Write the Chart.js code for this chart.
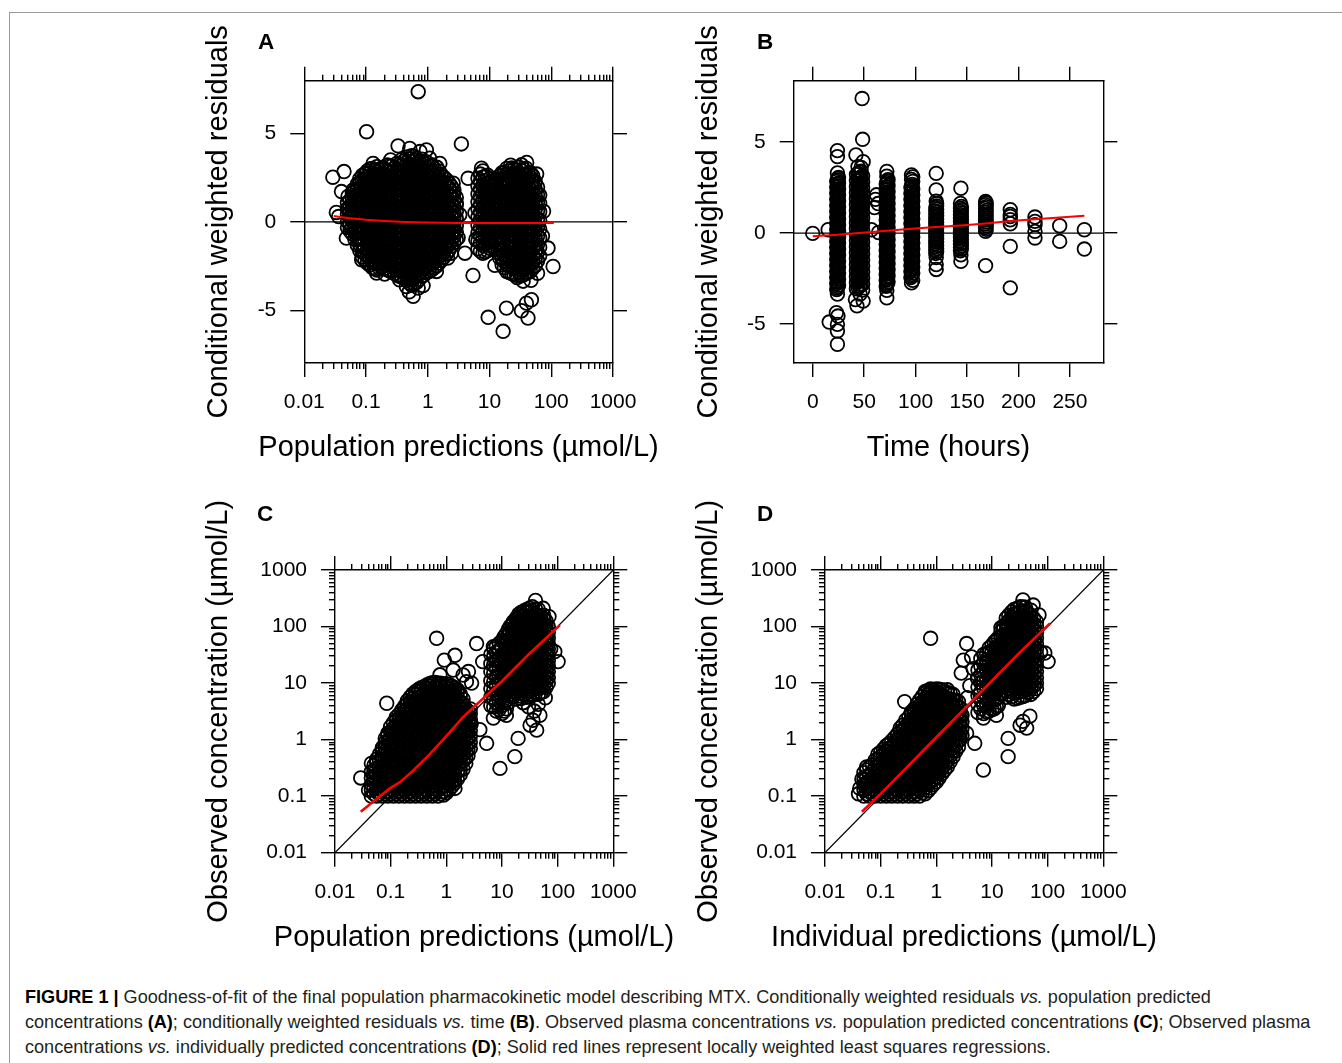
<!DOCTYPE html>
<html><head><meta charset="utf-8">
<script src="https://cdn.jsdelivr.net/npm/chart.js@4.4.1/dist/chart.umd.min.js"></script>
<style>
html,body{margin:0;padding:0;background:#fff;}
body{width:1342px;height:1063px;position:relative;overflow:hidden;font-family:"Liberation Sans",Arial,sans-serif;}
.frame{position:absolute;left:9px;top:12px;right:-5px;bottom:-5px;border-top:1px solid #999;border-left:1px solid #999;}
canvas{position:absolute;}
.lbl{position:absolute;font-weight:bold;font-size:22.5px;line-height:22px;color:#000;}
.cap{position:absolute;left:25px;top:985px;font-size:18.1px;line-height:25px;color:#231f20;white-space:nowrap;}
.cap b{color:#000;}
</style></head>
<body>
<div class="frame"></div>
<canvas id="cA" width="517" height="450" style="left:200px;top:20px"></canvas>
<canvas id="cB" width="517" height="450" style="left:690px;top:20px"></canvas>
<canvas id="cC" width="548" height="470" style="left:200px;top:490px"></canvas>
<canvas id="cD" width="548" height="470" style="left:690px;top:490px"></canvas>
<div class="lbl" style="left:258px;top:31px">A</div>
<div class="lbl" style="left:757px;top:31px">B</div>
<div class="lbl" style="left:257px;top:503px">C</div>
<div class="lbl" style="left:757px;top:503px">D</div>
<div class="cap"><b>FIGURE 1 |</b> Goodness-of-fit of the final population pharmacokinetic model describing MTX. Conditionally weighted residuals <i>vs.</i> population predicted<br>concentrations <b>(A)</b>; conditionally weighted residuals <i>vs.</i> time <b>(B)</b>. Observed plasma concentrations <i>vs.</i> population predicted concentrations <b>(C)</b>; Observed plasma<br>concentrations <i>vs.</i> individually predicted concentrations <b>(D)</b>; Solid red lines represent locally weighted least squares regressions.</div>
<script>
// ---------- tick values and labels ----------
const logTickValues = [0.01, 0.1, 1, 10, 100, 1000];
const logTickLabels = ['0.01', '0.1', '1', '10', '100', '1000'];
const cwresTickValues = [-5, 0, 5];
const cwresTickLabels = ['-5', '0', '5'];
const timeTickValues = [0, 50, 100, 150, 200, 250];
const timeTickLabels = ['0', '50', '100', '150', '200', '250'];

const titlePopPred = 'Population predictions (\u00b5mol/L)';
const titleIndPred = 'Individual predictions (\u00b5mol/L)';
const titleTime = 'Time (hours)';
const titleCwres = 'Conditional weighted residuals';
const titleObs = 'Observed concentration (\u00b5mol/L)';

// ---------- Panel A: population prediction vs CWRES (grouped by prediction) ----------
const predCwresColumns = [
 [0.05,[-0.32,0.02,0.41,0.73,1.08]],
 [0.06,[-0.68,-0.29,0.05,0.37,0.74,1.02,1.38,1.63]],
 [0.072,[-1.31,-0.92,-0.63,-0.22,0.13,0.44,0.82,1.17,1.46,1.83,2.12]],
 [0.087,[-1.97,-1.68,-1.27,-0.96,-0.57,-0.28,0.08,0.41,0.73,1.06,1.42,1.71,2.03,2.37,2.62]],
 [0.105,[-2.32,-1.94,-1.63,-1.22,-0.91,-0.53,-0.18,0.17,0.48,0.86,1.19,1.57,1.88,2.23,2.54,2.88]],
 [0.126,[-2.58,-2.27,-1.88,-1.56,-1.18,-0.84,-0.51,-0.13,0.22,0.53,0.92,1.24,1.62,1.93,2.31,2.64,3.02]],
 [0.15,[-2.72,-2.38,-2.03,-1.72,-1.33,-1.02,-0.63,-0.31,0.06,0.38,0.77,1.08,1.46,1.78,2.16,2.48,2.82,3.12]],
 [0.18,[-2.57,-2.21,-1.84,-1.52,-1.13,-0.79,-0.46,-0.08,0.24,0.62,0.93,1.31,1.64,2.02,2.33,2.71,3.04]],
 [0.22,[-2.71,-2.33,-2.02,-1.63,-1.31,-0.93,-0.62,-0.24,0.11,0.43,0.82,1.13,1.52,1.84,2.21,2.53,2.92,3.21]],
 [0.26,[-2.83,-2.44,-2.12,-1.73,-1.42,-1.03,-0.71,-0.33,0.02,0.36,0.71,1.04,1.42,1.73,2.12,2.43,2.81,3.14]],
 [0.32,[-3.02,-2.63,-2.31,-1.93,-1.62,-1.23,-0.91,-0.53,-0.21,0.17,0.48,0.87,1.18,1.57,1.88,2.27,2.58,2.96,3.31]],
 [0.38,[-3.12,-2.77,-2.38,-2.07,-1.68,-1.37,-0.98,-0.66,-0.28,0.07,0.38,0.77,1.08,1.47,1.78,2.17,2.48,2.87,3.18,3.52]],
 [0.46,[-3.31,-2.93,-2.62,-2.23,-1.92,-1.53,-1.22,-0.83,-0.52,-0.13,0.18,0.57,0.88,1.27,1.58,1.97,2.28,2.67,2.98,3.37,3.66]],
 [0.55,[-3.58,-3.27,-2.88,-2.57,-2.18,-1.87,-1.48,-1.17,-0.78,-0.47,-0.08,0.23,0.62,0.93,1.32,1.63,2.02,2.33,2.72,3.03,3.42,3.74]],
 [0.66,[-3.42,-3.03,-2.72,-2.33,-2.02,-1.63,-1.32,-0.93,-0.62,-0.23,0.08,0.47,0.78,1.17,1.48,1.87,2.18,2.57,2.88,3.27,3.58]],
 [0.8,[-3.08,-2.77,-2.38,-2.07,-1.68,-1.37,-0.98,-0.67,-0.28,0.03,0.42,0.73,1.12,1.43,1.82,2.13,2.52,2.83,3.22,3.54]],
 [0.95,[-2.88,-2.53,-2.22,-1.83,-1.52,-1.13,-0.82,-0.43,-0.12,0.27,0.58,0.97,1.28,1.67,1.98,2.37,2.68,3.07,3.38]],
 [1.15,[-2.72,-2.33,-2.02,-1.63,-1.32,-0.93,-0.62,-0.23,0.08,0.47,0.78,1.17,1.48,1.87,2.18,2.57,2.88,3.23]],
 [1.4,[-2.48,-2.17,-1.78,-1.47,-1.08,-0.77,-0.38,-0.07,0.32,0.63,1.02,1.33,1.72,2.03,2.42,2.73,3.08]],
 [1.65,[-2.18,-1.87,-1.48,-1.17,-0.78,-0.47,-0.08,0.23,0.62,0.93,1.32,1.63,2.02,2.33,2.68]],
 [2.0,[-1.82,-1.43,-1.12,-0.73,-0.42,-0.03,0.28,0.67,0.98,1.37,1.68,2.07,2.38]],
 [2.4,[-1.38,-1.07,-0.68,-0.37,0.02,0.33,0.72,1.03,1.42,1.73,2.02]],
 [2.9,[-0.98,-0.58,-0.22,0.21,0.58,0.97,1.38]],
 [6.5,[-1.52,-1.08,-0.63,-0.18,0.27,0.72,1.13,1.58,2.03,2.46]],
 [7.8,[-1.78,-1.32,-0.88,-0.47,-0.03,0.38,0.83,1.24,1.67,2.08,2.52,2.88]],
 [9.3,[-1.62,-1.17,-0.74,-0.31,0.12,0.53,0.96,1.37,1.78,2.21,2.63]],
 [11,[-1.38,-0.92,-0.43,0.04,0.47,0.91,1.34,1.82,2.28]],
 [13.5,[-1.73,-1.22,-0.76,-0.28,0.18,0.63,1.04,1.52,1.93,2.42]],
 [16,[-2.42,-2.03,-1.61,-1.18,-0.79,-0.37,0.04,0.43,0.84,1.23,1.64,2.02,2.43,2.78]],
 [19,[-2.81,-2.43,-2.07,-1.68,-1.32,-0.93,-0.58,-0.19,0.17,0.53,0.91,1.27,1.63,2.01,2.37,2.72,3.02]],
 [23,[-2.92,-2.58,-2.22,-1.83,-1.48,-1.13,-0.78,-0.43,-0.08,0.27,0.62,0.97,1.32,1.67,2.02,2.37,2.71,3.04]],
 [27.5,[-3.02,-2.67,-2.31,-1.96,-1.61,-1.26,-0.91,-0.56,-0.21,0.14,0.49,0.84,1.19,1.54,1.89,2.24,2.59,2.93]],
 [33,[-3.04,-2.71,-2.36,-2.01,-1.66,-1.31,-0.96,-0.61,-0.26,0.09,0.44,0.79,1.14,1.49,1.84,2.19,2.54,2.89,3.22]],
 [39,[-2.91,-2.56,-2.21,-1.86,-1.51,-1.16,-0.81,-0.46,-0.11,0.24,0.59,0.94,1.29,1.64,1.99,2.34,2.69,3.03]],
 [46,[-2.79,-2.42,-2.06,-1.71,-1.36,-1.01,-0.66,-0.31,0.04,0.39,0.74,1.09,1.44,1.79,2.14,2.49,2.77]],
 [55,[-2.48,-2.08,-1.69,-1.31,-0.92,-0.52,-0.13,0.28,0.68,1.07,1.48,1.88,2.27]],
 [65,[-1.92,-1.43,-0.91,-0.42,0.08,0.57,1.06,1.51]]
];
const predCwresColumnsMid = [
 [0.055,[-0.5,-0.13,0.22,0.56,0.9,1.22]],
 [0.066,[-0.98,-0.6,-0.27,0.09,0.42,0.78,1.12,1.44,1.76]],
 [0.079,[-1.62,-1.28,-0.93,-0.6,-0.25,0.1,0.45,0.79,1.14,1.48,1.83,2.17,2.42]],
 [0.096,[-2.15,-1.8,-1.45,-1.1,-0.76,-0.39,-0.05,0.3,0.64,0.98,1.33,1.67,2.02,2.36,2.72]],
 [0.115,[-2.44,-2.1,-1.76,-1.4,-1.05,-0.7,-0.34,0.02,0.36,0.7,1.06,1.41,1.76,2.11,2.44,2.78,2.98]],
 [0.138,[-2.65,-2.32,-1.96,-1.63,-1.27,-0.93,-0.57,-0.22,0.13,0.46,0.84,1.17,1.54,1.86,2.23,2.56,2.9]],
 [0.165,[-2.62,-2.3,-1.94,-1.6,-1.24,-0.9,-0.55,-0.2,0.15,0.5,0.85,1.2,1.55,1.9,2.25,2.6,2.93]],
 [0.2,[-2.64,-2.28,-1.93,-1.58,-1.22,-0.86,-0.54,-0.16,0.18,0.52,0.88,1.22,1.58,1.93,2.27,2.62,2.98]],
 [0.24,[-2.77,-2.4,-2.07,-1.68,-1.36,-0.98,-0.66,-0.28,0.06,0.4,0.76,1.1,1.47,1.8,2.16,2.5,2.86,3.17]],
 [0.29,[-2.92,-2.54,-2.21,-1.83,-1.52,-1.13,-0.81,-0.43,-0.1,0.26,0.6,0.95,1.3,1.65,2.0,2.35,2.7,3.05]],
 [0.35,[-3.07,-2.7,-2.35,-2.0,-1.65,-1.3,-0.95,-0.6,-0.25,0.12,0.43,0.82,1.13,1.52,1.83,2.22,2.53,2.92,3.25]],
 [0.42,[-3.22,-2.85,-2.5,-2.15,-1.8,-1.45,-1.1,-0.75,-0.4,-0.03,0.28,0.67,0.98,1.37,1.68,2.07,2.38,2.77,3.08,3.45]],
 [0.5,[-3.45,-3.1,-2.75,-2.4,-2.05,-1.7,-1.35,-1.0,-0.65,-0.3,0.05,0.4,0.75,1.1,1.45,1.8,2.15,2.5,2.85,3.2,3.55]],
 [0.6,[-3.5,-3.15,-2.8,-2.45,-2.1,-1.75,-1.4,-1.05,-0.7,-0.35,0.0,0.35,0.7,1.05,1.4,1.75,2.1,2.45,2.8,3.15,3.5,3.7]],
 [0.73,[-3.25,-2.9,-2.55,-2.2,-1.85,-1.5,-1.15,-0.8,-0.45,-0.1,0.25,0.6,0.95,1.3,1.65,2.0,2.35,2.7,3.05,3.4]],
 [0.87,[-3.0,-2.65,-2.3,-1.95,-1.6,-1.25,-0.9,-0.55,-0.2,0.15,0.5,0.85,1.2,1.55,1.9,2.25,2.6,2.95,3.3]],
 [1.05,[-2.8,-2.45,-2.1,-1.75,-1.4,-1.05,-0.7,-0.35,0.0,0.35,0.7,1.05,1.4,1.75,2.1,2.45,2.8,3.15]],
 [1.27,[-2.6,-2.25,-1.9,-1.55,-1.2,-0.85,-0.5,-0.15,0.2,0.55,0.9,1.25,1.6,1.95,2.3,2.65,3.0]],
 [1.52,[-2.33,-1.98,-1.63,-1.28,-0.93,-0.58,-0.23,0.12,0.47,0.82,1.17,1.52,1.87,2.22,2.55,2.88]],
 [1.82,[-2.0,-1.65,-1.3,-0.95,-0.6,-0.25,0.1,0.45,0.8,1.15,1.5,1.85,2.2,2.52]],
 [2.2,[-1.6,-1.25,-0.9,-0.55,-0.2,0.15,0.5,0.85,1.2,1.55,1.9,2.2]],
 [2.65,[-1.2,-0.85,-0.5,-0.15,0.2,0.55,0.9,1.25,1.6,1.8]],
 [7.1,[-1.65,-1.2,-0.76,-0.32,0.12,0.55,0.98,1.42,1.85,2.28,2.7]],
 [8.5,[-1.7,-1.25,-0.82,-0.4,0.04,0.45,0.9,1.3,1.72,2.15,2.58]],
 [10.1,[-1.5,-1.05,-0.6,-0.15,0.3,0.72,1.15,1.58,2.0,2.45]],
 [12.2,[-1.55,-1.07,-0.6,-0.12,0.33,0.77,1.19,1.67,2.11,2.36]],
 [14.7,[-2.05,-1.62,-1.2,-0.78,-0.33,0.1,0.52,0.94,1.36,1.78,2.2,2.6]],
 [17.4,[-2.6,-2.22,-1.84,-1.45,-1.05,-0.65,-0.27,0.12,0.5,0.88,1.27,1.64,2.03,2.4,2.78]],
 [21,[-2.86,-2.5,-2.14,-1.76,-1.4,-1.04,-0.69,-0.31,0.04,0.4,0.76,1.12,1.47,1.84,2.2,2.54,2.87]],
 [25,[-2.97,-2.62,-2.27,-1.9,-1.55,-1.2,-0.85,-0.5,-0.15,0.2,0.55,0.9,1.25,1.6,1.95,2.3,2.65,2.98]],
 [30,[-2.85,-2.5,-2.15,-1.8,-1.45,-1.1,-0.75,-0.4,-0.05,0.3,0.65,1.0,1.35,1.7,2.05,2.4,2.75,3.08]],
 [36,[-2.98,-2.63,-2.28,-1.93,-1.58,-1.23,-0.88,-0.53,-0.18,0.17,0.52,0.87,1.22,1.57,1.92,2.27,2.62,2.96]],
 [42.5,[-2.85,-2.48,-2.13,-1.78,-1.43,-1.08,-0.73,-0.38,-0.03,0.32,0.67,1.02,1.37,1.72,2.07,2.42,2.75]],
 [50,[-2.62,-2.25,-1.88,-1.5,-1.12,-0.75,-0.37,0.02,0.4,0.78,1.16,1.55,1.92,2.3,2.6]],
 [60,[-2.2,-1.72,-1.27,-0.8,-0.32,0.16,0.63,1.1,1.55,1.95]]
];
const predCwresSingles = [
 [0.029,2.52],[0.044,2.84],[0.04,1.71],[0.033,0.53],[0.036,0.3],[0.048,-0.92],[0.058,-0.36],[0.085,-2.14],
 [0.148,-2.89],[0.2,-2.95],[0.35,-3.27],[0.45,-3.65],[0.58,-4.21],[0.5,-3.95],[0.7,-3.74],[0.84,-3.6],
 [1.07,-2.6],[1.38,-2.8],[2.1,-2.05],[2.4,-1.77],[2.58,-0.64],[2.9,1.05],[2.58,2.18],[1.57,3.3],[1.07,3.6],
 [0.95,4.06],[0.75,3.97],[0.51,4.15],[0.33,4.29],[0.13,3.3],[0.1,2.74],[0.079,2.18],[0.062,1.8],[0.051,1.43],
 [0.102,5.09],[0.7,7.35],[3.3,0.4],[3.1,-0.9],[0.25,3.5],
 [4.5,2.46],[3.5,4.4],[4.0,-1.77],[5.4,-3.03],[12.2,-2.46],[9.5,-5.39],[18.8,-4.87],[16.6,-6.18],[32.9,-5.02],
 [39.6,-4.59],[47.7,-4.4],[42,-5.43],[88.7,-1.48],[107,-2.52],[7.4,3.03],[40,3.35],[35,-3.35],[47,-3.3],
 [28,-3.15],[60,-2.9],[75,0.6],[72,-0.8],[58,2.7],[22,3.2],[5.8,0.5],[6,-1.0]
];
const loessA = [[0.03,0.33],[0.05,0.22],[0.1,0.12],[0.2,0.05],[0.35,0.01],[0.6,-0.02],[1,-0.04],[3,-0.06],[10,-0.07],[30,-0.07],[110,-0.06]];
const zeroLineA = [[0.01,0],[1000,0]];

// ---------- Panel B: time vs CWRES (grouped by sampling time) ----------
const timeCwresColumns = [
 [23.3,[-3.1,-2.77,-2.44,-2.11,-1.78,-1.45,-1.12,-0.79,-0.46,-0.13,0.2,0.53,0.86,1.19,1.52,1.85,2.18,2.51,2.84]],
 [23.9,[-3.02,-2.69,-2.36,-2.03,-1.7,-1.37,-1.04,-0.71,-0.38,-0.05,0.28,0.61,0.94,1.27,1.6,1.93,2.26,2.59,2.92]],
 [24.5,[-2.94,-2.61,-2.28,-1.95,-1.62,-1.29,-0.96,-0.63,-0.3,0.03,0.36,0.69,1.02,1.35,1.68,2.01,2.34,2.67,3.0]],
 [25.1,[-2.86,-2.53,-2.2,-1.87,-1.54,-1.21,-0.88,-0.55,-0.22,0.11,0.44,0.77,1.1,1.43,1.76,2.09,2.42,2.75,3.06]],
 [42.5,[-3.06,-2.73,-2.4,-2.07,-1.74,-1.41,-1.08,-0.75,-0.42,-0.09,0.24,0.57,0.9,1.23,1.56,1.89,2.22,2.55,2.88,3.21]],
 [44,[-2.99,-2.66,-2.33,-2.0,-1.67,-1.34,-1.01,-0.68,-0.35,-0.02,0.31,0.64,0.97,1.3,1.63,1.96,2.29,2.62,2.95,3.28]],
 [45.5,[-2.93,-2.6,-2.27,-1.94,-1.61,-1.28,-0.95,-0.62,-0.29,0.04,0.37,0.7,1.03,1.36,1.69,2.02,2.35,2.68,3.01,3.34]],
 [47,[-2.86,-2.53,-2.2,-1.87,-1.54,-1.21,-0.88,-0.55,-0.22,0.11,0.44,0.77,1.1,1.43,1.76,2.09,2.42,2.75,3.08,3.4]],
 [48.5,[-3.13,-2.8,-2.47,-2.14,-1.81,-1.48,-1.15,-0.82,-0.49,-0.16,0.17,0.5,0.83,1.16,1.49,1.82,2.15,2.48,2.81,3.14]],
 [71.4,[-2.92,-2.59,-2.26,-1.93,-1.6,-1.27,-0.94,-0.61,-0.28,0.05,0.38,0.71,1.04,1.37,1.7,2.03,2.36,2.69]],
 [72,[-2.84,-2.51,-2.18,-1.85,-1.52,-1.19,-0.86,-0.53,-0.2,0.13,0.46,0.79,1.12,1.45,1.78,2.11,2.44,2.77]],
 [72.6,[-2.76,-2.43,-2.1,-1.77,-1.44,-1.11,-0.78,-0.45,-0.12,0.21,0.54,0.87,1.2,1.53,1.86,2.19,2.52,2.85]],
 [73.2,[-2.68,-2.35,-2.02,-1.69,-1.36,-1.03,-0.7,-0.37,-0.04,0.29,0.62,0.95,1.28,1.61,1.94,2.27,2.6,2.93]],
 [95.4,[-2.44,-2.11,-1.78,-1.45,-1.12,-0.79,-0.46,-0.13,0.2,0.53,0.86,1.19,1.52,1.85,2.18,2.51]],
 [96,[-2.36,-2.03,-1.7,-1.37,-1.04,-0.71,-0.38,-0.05,0.28,0.61,0.94,1.27,1.6,1.93,2.26,2.59]],
 [96.6,[-2.28,-1.95,-1.62,-1.29,-0.96,-0.63,-0.3,0.03,0.36,0.69,1.02,1.35,1.68,2.01,2.34,2.67]],
 [97.2,[-2.6,-2.2,-1.87,-1.54,-1.21,-0.88,-0.55,-0.22,0.11,0.44,0.77,1.1,1.43,1.76,2.09,2.42,2.84,3.08]],
 [119.6,[-1.12,-0.94,-0.76,-0.58,-0.4,-0.22,-0.04,0.14,0.32,0.5,0.68,0.86,1.04,1.22,1.4]],
 [120.4,[-1.03,-0.85,-0.67,-0.49,-0.31,-0.13,0.05,0.23,0.41,0.59,0.77,0.95,1.13,1.31,1.49,1.62]],
 [143.6,[-0.97,-0.79,-0.61,-0.43,-0.25,-0.07,0.11,0.29,0.47,0.65,0.83,1.01,1.19,1.37,1.63]],
 [144.4,[-0.88,-0.7,-0.52,-0.34,-0.16,0.02,0.2,0.38,0.56,0.74,0.92,1.1,1.28,1.46]],
 [168,[0.09,0.3,0.5,0.72,0.93,1.14,1.35,1.56,1.73]],
 [168.6,[0.2,0.4,0.61,0.82,1.03,1.24,1.45,1.65]],
 [192,[0.51,0.73,0.91,1.02,1.28]],
 [216,[-0.27,0.09,0.46,0.64,0.88]],
 [240,[-0.46,0.4]],
 [264,[-0.88,0.18]]
];
const timeCwresSingles = [
 [0,-0.02],[15,0.18],[16,-4.89],[24,4.53],[24,4.2],[24,3.3],[24,-3.35],[23,-4.38],[24.5,-4.56],[24,-5.02],[24,-5.38],[24,-6.11],
 [48,7.39],[48.5,5.15],[42,4.29],[49,3.92],[44,3.65],[47,3.6],[41.5,-3.65],[43,-4.0],[49,-3.74],[46,-3.35],
 [57,0.18],[64,0.03],[62,2.1],[63.5,1.62],[61,1.85],[60,1.4],[72,3.38],[72,3.12],[72,-3.56],[72,-3.15],
 [96,3.19],[96,2.95],[96,-2.74],[120,3.28],[120,2.37],[120,1.75],[120,-1.35],[120,-1.73],[120,-2.0],
 [144,2.46],[144,-1.2],[144,-1.55],[168,-1.79],[192,-0.73],[192,-3.01]
];
const loessB = [[0,-0.18],[24,-0.1],[48,0.02],[72,0.13],[96,0.24],[120,0.33],[144,0.42],[168,0.53],[192,0.66],[216,0.76],[240,0.86],[264,0.95]];
const zeroLineB = [[-18.5,0],[282.5,0]];

// ---------- Panel C: population prediction vs observed (grouped by prediction) ----------
const predObsColumns = [
 [0.045,[0.1,0.13,0.16,0.21,0.27]],
 [0.056,[0.1,0.12,0.15,0.19,0.24,0.31,0.39,0.45]],
 [0.071,[0.1,0.13,0.16,0.2,0.26,0.33,0.41,0.52,0.66,0.72]],
 [0.089,[0.1,0.12,0.15,0.19,0.24,0.3,0.38,0.48,0.6,0.76,0.95,1.2,1.3]],
 [0.112,[0.1,0.13,0.16,0.2,0.25,0.32,0.4,0.51,0.64,0.81,1.02,1.28,1.6,2.0]],
 [0.141,[0.1,0.12,0.15,0.19,0.24,0.3,0.38,0.48,0.6,0.76,0.96,1.21,1.52,1.92,2.4,2.8]],
 [0.178,[0.1,0.13,0.16,0.2,0.25,0.32,0.4,0.5,0.63,0.8,1.0,1.27,1.6,2.0,2.5,3.2,3.9]],
 [0.224,[0.1,0.12,0.15,0.19,0.24,0.3,0.38,0.47,0.6,0.75,0.95,1.2,1.5,1.9,2.4,3.0,3.8,4.7,5.6]],
 [0.282,[0.1,0.13,0.16,0.2,0.25,0.32,0.4,0.5,0.63,0.8,1.0,1.26,1.6,2.0,2.5,3.2,4.0,5.0,6.3,7.1]],
 [0.355,[0.1,0.12,0.15,0.19,0.24,0.3,0.38,0.47,0.6,0.75,0.95,1.2,1.5,1.9,2.4,3.0,3.8,4.7,6.0,7.5,8.3]],
 [0.447,[0.1,0.13,0.16,0.2,0.25,0.32,0.4,0.5,0.63,0.8,1.0,1.26,1.6,2.0,2.5,3.2,4.0,5.0,6.3,7.9,9.3]],
 [0.562,[0.1,0.12,0.15,0.19,0.24,0.3,0.38,0.47,0.6,0.75,0.95,1.2,1.5,1.9,2.4,3.0,3.8,4.7,6.0,7.5,9.5,10.2]],
 [0.708,[0.1,0.13,0.16,0.2,0.25,0.32,0.4,0.5,0.63,0.8,1.0,1.26,1.6,2.0,2.5,3.2,4.0,5.0,6.3,7.9,10]],
 [0.891,[0.105,0.12,0.15,0.19,0.24,0.3,0.38,0.47,0.6,0.75,0.95,1.2,1.5,1.9,2.4,3.0,3.8,4.7,6.0,7.5,9.6]],
 [1.12,[0.13,0.16,0.2,0.25,0.32,0.4,0.5,0.63,0.8,1.0,1.26,1.6,2.0,2.5,3.2,4.0,5.0,6.3,7.9,9.5]],
 [1.41,[0.17,0.19,0.24,0.3,0.38,0.47,0.6,0.75,0.95,1.2,1.5,1.9,2.4,3.0,3.8,4.7,6.0,7.5,8.3]],
 [1.78,[0.24,0.3,0.38,0.47,0.6,0.75,0.95,1.2,1.5,1.9,2.4,3.0,3.8,4.7,6.0,6.4]],
 [2.24,[0.38,0.47,0.6,0.75,0.95,1.2,1.5,1.9,2.4,3.0,3.5]],
 [2.7,[0.7,0.9,1.15,1.45,1.85,2.3,2.9,3.5]],
 [6.3,[4,5.6,8,11,16,22,32]],
 [7.9,[3.2,4.5,6.3,8.9,12.6,18,25,35,45]],
 [10,[2.9,4,5.6,8,11,16,22,32,45,56]],
 [12,[3.5,5,7,10,14,20,28,40,56,75]],
 [14,[6.3,8,10,12.6,16,20,25,32,40,50,63,79,100]],
 [18,[5.2,6.6,8.3,10.5,13,16.5,21,26,33,42,52,66,83,105,132,141]],
 [22,[5.3,6.6,8.5,10.5,13.2,16.6,21,26,33,42,52,66,83,105,132,166,178]],
 [28,[5.6,7,8.9,11.2,14,17.8,22,28,35,45,56,71,89,112,141,178,200]],
 [35,[6,7.5,9.5,12,15,19,24,30,38,47,60,75,95,120,150,190,224]],
 [45,[6.3,8,10,12.6,16,20,25,32,40,50,63,79,100,126,158,200]],
 [56,[7.1,8.9,11.2,14,17.8,22,28,35,45,56,71,89,112,141,158]],
 [68,[10,12.6,16,20,25,32,40,50,63,79,100]]
];
const predObsColumnsMid = [
 [0.05,[0.11,0.14,0.18,0.22,0.28,0.35]],
 [0.063,[0.11,0.135,0.17,0.21,0.27,0.34,0.43,0.55]],
 [0.08,[0.11,0.14,0.175,0.22,0.28,0.36,0.45,0.57,0.72,0.9,1.05]],
 [0.1,[0.11,0.135,0.17,0.21,0.27,0.34,0.43,0.54,0.68,0.86,1.08,1.36,1.7]],
 [0.126,[0.11,0.14,0.175,0.22,0.28,0.35,0.44,0.56,0.7,0.88,1.1,1.4,1.75,2.2,2.5]],
 [0.158,[0.11,0.135,0.17,0.21,0.27,0.34,0.43,0.54,0.68,0.86,1.08,1.36,1.7,2.15,2.7,3.3]],
 [0.2,[0.11,0.14,0.175,0.22,0.28,0.35,0.44,0.56,0.7,0.88,1.1,1.4,1.75,2.2,2.8,3.5,4.3,4.9]],
 [0.25,[0.11,0.135,0.17,0.21,0.27,0.34,0.43,0.54,0.68,0.86,1.08,1.36,1.7,2.15,2.7,3.4,4.3,5.3,6.4]],
 [0.32,[0.11,0.14,0.175,0.22,0.28,0.35,0.44,0.56,0.7,0.88,1.1,1.4,1.75,2.2,2.8,3.5,4.4,5.5,6.9,7.8]],
 [0.4,[0.11,0.135,0.17,0.21,0.27,0.34,0.43,0.54,0.68,0.86,1.08,1.36,1.7,2.15,2.7,3.4,4.3,5.4,6.8,8.6]],
 [0.5,[0.11,0.14,0.175,0.22,0.28,0.35,0.44,0.56,0.7,0.88,1.1,1.4,1.75,2.2,2.8,3.5,4.4,5.6,7.0,8.8,9.8]],
 [0.63,[0.11,0.135,0.17,0.21,0.27,0.34,0.43,0.54,0.68,0.86,1.08,1.36,1.7,2.15,2.7,3.4,4.3,5.4,6.8,8.6,10.3]],
 [0.79,[0.11,0.14,0.175,0.22,0.28,0.35,0.44,0.56,0.7,0.88,1.1,1.4,1.75,2.2,2.8,3.5,4.4,5.6,7.0,8.8,10]],
 [1.0,[0.115,0.135,0.17,0.21,0.27,0.34,0.43,0.54,0.68,0.86,1.08,1.36,1.7,2.15,2.7,3.4,4.3,5.4,6.8,8.6,9.8]],
 [1.26,[0.15,0.18,0.22,0.28,0.36,0.45,0.56,0.71,0.89,1.12,1.42,1.78,2.24,2.8,3.55,4.5,5.6,7.1,8.8]],
 [1.58,[0.2,0.27,0.34,0.43,0.54,0.68,0.86,1.08,1.36,1.7,2.15,2.7,3.4,4.3,5.4,6.8,7.6]],
 [2.0,[0.3,0.42,0.54,0.68,0.86,1.08,1.36,1.7,2.15,2.7,3.4,4.3,5.2]],
 [2.45,[0.52,0.66,0.84,1.05,1.3,1.65,2.1,2.6,3.2]],
 [7.1,[3.8,5.3,7.5,10.5,15,21,30,40]],
 [8.9,[3.4,4.8,6.8,9.5,13.5,19,27,38,50]],
 [11,[3.2,4.5,6.3,9,12.6,18,25,35,50,66]],
 [13,[4.5,6,7.5,9.5,11.5,14,18,22,28,36,45,56,71,89]],
 [16,[5.8,7.4,9.2,11.6,14.5,18.3,23,29,37,46,58,73,92,115,122]],
 [20,[5.9,7.5,9.5,11.8,14.8,18.7,23.5,29.5,37,47,59,74,94,118,150,165]],
 [25,[6.3,7.9,10,12.6,15.8,20,25,31.5,40,50,63,79,100,126,158,190]],
 [31,[5.8,7.3,9.2,11.6,14.6,18.4,23,29,37,46,58,73,92,116,146,184,212]],
 [40,[6.6,8.3,10.4,13.1,16.5,20.7,26,33,41.5,52,66,83,104,131,165,205]],
 [50,[6.7,8.4,10.6,13.3,16.8,21,26.5,33.5,42,53,67,84,106,133,150]],
 [62,[8.4,10.6,13.3,16.8,21,26.5,33.5,42,53,67,84,106,125]]
];
const predObsSingles = [
 [0.029,0.21],[0.04,0.128],[0.045,0.38],[0.085,4.4],[1.43,0.137],[2.8,1.9],[4.0,1.5],[5.3,0.86],[0.67,62],[3.5,50],
 [4.5,24],[0.92,25.5],[1.43,31],[1.33,17],[2.5,16],[2.3,10.6],[0.77,14],[2.0,13.9],[2.85,10],[9.2,0.31],[17,0.5],
 [19.5,1.05],[36,2.2],[42,1.47],[32,1.8],[48,2.7],[102,24],[89,36],[7.0,2.4],[12,2.7],[40,290],[55,210],[15,107],
 [7,44],[70,150],[75,40],[30,3.8],[45,4.2],[24,4.5],[38,3.2],[60,5.5]
];
const loessC = [[0.029,0.053],[0.06,0.095],[0.1,0.14],[0.15,0.18],[0.25,0.28],[0.5,0.55],[1,1.15],[2,2.5],[5,5.8],[10,10.8],[30,32],[110,106]];
const identityLine = [[0.01,0.01],[1000,1000]];

// ---------- Panel D: individual prediction vs observed (grouped by prediction) ----------
const indPredObsColumns = [
 [0.05,[0.1,0.13,0.16,0.2,0.26]],
 [0.063,[0.1,0.12,0.15,0.19,0.24,0.33]],
 [0.079,[0.1,0.13,0.16,0.2,0.25,0.32,0.43]],
 [0.1,[0.1,0.12,0.15,0.19,0.24,0.3,0.38,0.5,0.6]],
 [0.126,[0.1,0.13,0.16,0.2,0.25,0.32,0.4,0.5,0.63,0.78]],
 [0.158,[0.1,0.12,0.15,0.19,0.24,0.3,0.38,0.47,0.6,0.75,0.95]],
 [0.2,[0.1,0.13,0.16,0.2,0.25,0.32,0.4,0.5,0.63,0.8,1.0,1.25]],
 [0.25,[0.1,0.12,0.15,0.19,0.24,0.3,0.38,0.47,0.6,0.75,0.95,1.2,1.5,1.8]],
 [0.32,[0.1,0.13,0.16,0.2,0.25,0.32,0.4,0.5,0.63,0.8,1.0,1.26,1.6,2.0,2.5]],
 [0.4,[0.1,0.12,0.15,0.19,0.24,0.3,0.38,0.47,0.6,0.75,0.95,1.2,1.5,1.9,2.4,3.0,3.5]],
 [0.5,[0.1,0.13,0.16,0.2,0.25,0.32,0.4,0.5,0.63,0.8,1.0,1.26,1.6,2.0,2.5,3.2,4.0,5.0]],
 [0.63,[0.11,0.14,0.17,0.21,0.27,0.34,0.42,0.53,0.67,0.84,1.06,1.33,1.68,2.1,2.7,3.3,4.2,5.3,6.7,7.1]],
 [0.79,[0.14,0.18,0.22,0.28,0.35,0.44,0.56,0.7,0.88,1.1,1.4,1.76,2.2,2.8,3.5,4.4,5.6,7.0,7.9]],
 [1.0,[0.18,0.22,0.28,0.35,0.44,0.56,0.7,0.88,1.1,1.4,1.76,2.2,2.8,3.5,4.4,5.6,7.0,7.9]],
 [1.26,[0.25,0.31,0.39,0.49,0.62,0.78,0.98,1.23,1.55,1.95,2.45,3.1,3.9,4.9,6.1,7.6]],
 [1.58,[0.33,0.42,0.53,0.67,0.84,1.06,1.33,1.68,2.1,2.7,3.3,4.2,5.3,6.7,7.6]],
 [2.0,[0.5,0.63,0.8,1.0,1.26,1.6,2.0,2.5,3.2,4.0,5.0,6.3]],
 [2.5,[0.75,0.95,1.2,1.5,1.9,2.4,3.0,3.8,4.7]],
 [2.9,[1.2,1.6,2.1,2.7]],
 [5.6,[3,4.2,6,8.5,12,17]],
 [7.1,[2.9,4,5.6,8,11,16,22,32]],
 [8.9,[3.2,4.5,6.3,8.9,12.6,18,25,35,42]],
 [11,[3.5,5,7,10,14,20,28,40,53]],
 [13,[4,5.6,8,11,16,22,32,45,63]],
 [16,[8.9,11.2,14,17.8,22,28,35,45,56,71,89,100]],
 [20,[6.3,8,10,12.6,16,20,25,32,40,50,63,79,100,126,158]],
 [25,[5.2,6.6,8.3,10.5,13,16.5,21,26,33,42,52,66,83,105,132,166,200]],
 [32,[5.6,7,8.9,11.2,14,17.8,22,28,35,45,56,71,89,112,141,178,224]],
 [40,[6,7.5,9.5,12,15,19,24,30,38,47,60,75,95,120,150,190,220]],
 [50,[6.3,8,10,12.6,16,20,25,32,40,50,63,79,100,126,158,195]],
 [63,[8,10,12.6,16,20,25,32,40,50,63,79,100,122]]
];
const indPredObsColumnsMid = [
 [0.056,[0.11,0.14,0.175,0.22,0.29]],
 [0.071,[0.11,0.135,0.17,0.21,0.27,0.36]],
 [0.089,[0.11,0.14,0.175,0.22,0.28,0.35,0.45,0.55]],
 [0.112,[0.11,0.135,0.17,0.21,0.27,0.34,0.43,0.55,0.68]],
 [0.141,[0.11,0.14,0.175,0.22,0.28,0.35,0.44,0.56,0.7,0.85]],
 [0.178,[0.11,0.135,0.17,0.21,0.27,0.34,0.43,0.54,0.68,0.86,1.08]],
 [0.224,[0.11,0.14,0.175,0.22,0.28,0.35,0.44,0.56,0.7,0.88,1.1,1.38,1.6]],
 [0.282,[0.11,0.135,0.17,0.21,0.27,0.34,0.43,0.54,0.68,0.86,1.08,1.36,1.7,2.2]],
 [0.355,[0.11,0.14,0.175,0.22,0.28,0.35,0.44,0.56,0.7,0.88,1.1,1.4,1.75,2.2,2.8,3.1]],
 [0.447,[0.11,0.135,0.17,0.21,0.27,0.34,0.43,0.54,0.68,0.86,1.08,1.36,1.7,2.15,2.7,3.4,4.2]],
 [0.56,[0.115,0.15,0.19,0.24,0.3,0.38,0.47,0.6,0.75,0.95,1.2,1.5,1.9,2.4,3.0,3.7,4.7,5.8]],
 [0.71,[0.125,0.16,0.2,0.25,0.31,0.39,0.5,0.63,0.79,1.0,1.25,1.57,1.98,2.5,3.1,3.9,4.9,6.2,7.4]],
 [0.89,[0.16,0.2,0.25,0.31,0.39,0.5,0.63,0.79,1.0,1.25,1.57,1.98,2.5,3.1,3.9,4.9,6.2,7.6]],
 [1.12,[0.21,0.26,0.33,0.42,0.52,0.66,0.83,1.04,1.31,1.65,2.07,2.6,3.3,4.15,5.2,6.5,7.8]],
 [1.41,[0.29,0.36,0.46,0.58,0.72,0.91,1.15,1.45,1.82,2.3,2.9,3.6,4.5,5.7,7.2]],
 [1.78,[0.41,0.52,0.66,0.83,1.04,1.31,1.65,2.07,2.6,3.3,4.15,5.2,6.6]],
 [2.24,[0.63,0.8,1.0,1.26,1.6,2.0,2.5,3.2,4.0,5.0]],
 [2.7,[1.0,1.3,1.7,2.2,2.8,3.6]],
 [6.3,[3.5,5,7,10,14,20,27]],
 [8,[3.1,4.3,6,8.5,12,17,24,33]],
 [10,[3.4,4.8,6.7,9.5,13.3,19,26.5,37,47]],
 [12,[3.8,5.3,7.5,10.5,15,21,30,42,58]],
 [14.5,[6.5,8.4,10.5,13.2,16.5,21,26,33,41,52,65,82,95]],
 [18,[5.6,7.1,9,11.3,14.2,17.9,22.5,28.3,35.6,44.8,56,71,89,112,140]],
 [22.5,[5.7,7.2,9.1,11.5,14.5,18.2,23,29,36.5,46,58,73,92,116,146,182]],
 [28.5,[5.4,6.8,8.6,10.9,13.7,17.2,21.7,27.3,34.4,43.3,54.5,68.6,86.4,108,136,172,212]],
 [36,[5.8,7.3,9.2,11.6,14.6,18.4,23,29,37,46,58,73,92,116,146,184,222]],
 [45,[6.9,8.7,11,13.8,17.4,21.8,27.5,34.6,43.6,55,69,87,110,138,170]],
 [56,[7.1,8.9,11.2,14.1,17.8,22.4,28.2,35.5,44.7,56.3,71,89,112,140]]
];
const indPredObsSingles = [
 [0.042,0.137],[0.046,0.2],[0.056,0.33],[0.04,0.11],[0.27,4.7],[0.79,62],[3.5,50],[3.05,25.5],[4.3,29],[4.6,18],
 [2.8,15],[3.5,1.3],[4.9,0.86],[7.0,0.29],[19.5,1.05],[19.5,0.5],[36,2.1],[42,1.6],[32,1.8],[48,2.6],[102,24],
 [89,34],[36,295],[55,240],[7.0,2.4],[12,2.7],[5.5,12],[4,9],[3.6,5.5],[8,26],[70,160],[75,35]
];
const loessD = [[0.046,0.053],[0.1,0.11],[0.3,0.33],[1,1.1],[3,3.3],[10,11],[30,33],[110,114]];

// ---------- helpers ----------
const FONT = '"Liberation Sans", Arial, sans-serif';
function toPoints(columnSets, singles) {
  const out = [];
  columnSets.forEach(cols => cols.forEach(([x, ys]) => ys.forEach(y => out.push({x: x, y: y}))));
  singles.forEach(([x, y]) => out.push({x: x, y: y}));
  return out;
}
function toLine(arr) { return arr.map(([x, y]) => ({x: x, y: y})); }
function minorLogTicks(majors) {
  const out = [];
  for (let i = 0; i < majors.length - 1; i++) for (let m = 2; m <= 9; m++) out.push(+(m * majors[i]).toPrecision(3));
  return out;
}
function axis(c) {
  return {
    type: c.type, position: c.position, min: c.min, max: c.max, bounds: 'data', weight: c.weight, offset: false,
    afterBuildTicks: s => { s.ticks = c.values.map(v => ({value: v})); },
    afterFit: s => {
      if (c.position === 'top' || c.position === 'bottom') s.height = c.size; else s.width = c.size;
      s.paddingLeft = 0; s.paddingRight = 0; s.paddingTop = 0; s.paddingBottom = 0;
    },
    grid: {display: true, drawOnChartArea: false, drawTicks: true, tickLength: c.tickLength, tickWidth: 1.4, tickColor: '#000', color: '#000', lineWidth: 1.4},
    border: {display: c.border, color: '#000', width: 1.4},
    ticks: {display: !!c.labels, autoSkip: false, maxRotation: 0, minRotation: 0, padding: c.padding || 0, color: '#000',
      font: {family: FONT, size: 21}, callback: (v, i) => (c.labels ? c.labels[i] : '')},
    title: c.title ? {display: true, text: c.title, color: '#000', font: {family: FONT, size: 29}, padding: c.titlePadding} : {display: false}
  };
}
function panel(id, p) {
  const scales = {
    x: axis({type: p.xType, position: 'bottom', min: p.xMin, max: p.xMax, weight: 1, values: p.xMajor, labels: p.xLabels, size: p.bottom - 39.4, tickLength: 14, border: true, padding: 12.5}),
    xTop: axis({type: p.xType, position: 'top', min: p.xMin, max: p.xMax, weight: 1, values: p.xMajor, size: p.top, tickLength: 14, border: true}),
    y: axis({type: p.yType, position: 'left', min: p.yMin, max: p.yMax, weight: 1, values: p.yMajor, labels: p.yLabels, size: p.left, tickLength: 14, border: true, padding: 14, title: p.yTitle, titlePadding: {top: 1.5, bottom: 0}}),
    yRight: axis({type: p.yType, position: 'right', min: p.yMin, max: p.yMax, weight: 1, values: p.yMajor, size: p.right, tickLength: 14, border: true})
  };
  if (p.xMinor) {
    scales.xMinor = axis({type: p.xType, position: 'bottom', min: p.xMin, max: p.xMax, weight: 0, values: p.xMinor, size: 0, tickLength: 6, border: false});
    scales.xTopMinor = axis({type: p.xType, position: 'top', min: p.xMin, max: p.xMax, weight: 0, values: p.xMinor, size: 0, tickLength: 6, border: false});
  }
  if (p.yMinor) {
    scales.yMinor = axis({type: p.yType, position: 'left', min: p.yMin, max: p.yMax, weight: 0, values: p.yMinor, size: 0, tickLength: 6, border: false});
    scales.yRightMinor = axis({type: p.yType, position: 'right', min: p.yMin, max: p.yMax, weight: 0, values: p.yMinor, size: 0, tickLength: 6, border: false});
  }
  new Chart(document.getElementById(id), {
    type: 'scatter',
    data: {datasets: [
      {data: p.points, order: 2, pointRadius: 6.8, pointBorderWidth: 1.8, pointBorderColor: '#000', pointBackgroundColor: 'rgba(0,0,0,0)', showLine: false, xAxisID: 'x', yAxisID: 'y'},
      {data: p.ref, order: 1, showLine: true, pointRadius: 0, borderColor: '#000', borderWidth: 1.2, xAxisID: 'x', yAxisID: 'y'},
      {data: p.loess, order: 0, showLine: true, pointRadius: 0, borderColor: '#ff0000', borderWidth: p.loessWidth, xAxisID: 'x', yAxisID: 'y'}
    ]},
    options: {
      responsive: false, animation: false, events: [], devicePixelRatio: 1,
      layout: {padding: 0, autoPadding: false},
      plugins: {legend: {display: false}, tooltip: {enabled: false},
        title: {display: true, position: 'bottom', align: 'center', text: p.xTitle, color: '#000', font: {family: FONT, size: 29, weight: 'normal'}, padding: {top: 0, bottom: 4.6}}},
      scales: scales
    }
  });
}
const logMinor = minorLogTicks(logTickValues);

panel('cA', {xType: 'logarithmic', xMin: 0.01, xMax: 1000, xMajor: logTickValues, xLabels: logTickLabels, xMinor: logMinor,
  yType: 'linear', yMin: -7.97, yMax: 7.97, yMajor: cwresTickValues, yLabels: cwresTickLabels,
  left: 104.3, right: 104, top: 60.7, bottom: 107, xTitle: titlePopPred, yTitle: titleCwres,
  points: toPoints([predCwresColumns, predCwresColumnsMid], predCwresSingles), ref: toLine(zeroLineA), loess: toLine(loessA), loessWidth: 2});
panel('cB', {xType: 'linear', xMin: -18.5, xMax: 282.4, xMajor: timeTickValues, xLabels: timeTickLabels,
  yType: 'linear', yMin: -7.14, yMax: 8.37, yMajor: cwresTickValues, yLabels: cwresTickLabels,
  left: 103.7, right: 103.7, top: 60.7, bottom: 107, xTitle: titleTime, yTitle: titleCwres,
  points: toPoints([timeCwresColumns], timeCwresSingles), ref: toLine(zeroLineB), loess: toLine(loessB), loessWidth: 2});
panel('cC', {xType: 'logarithmic', xMin: 0.01, xMax: 1000, xMajor: logTickValues, xLabels: logTickLabels, xMinor: logMinor,
  yType: 'logarithmic', yMin: 0.01, yMax: 1000, yMajor: logTickValues, yLabels: logTickLabels, yMinor: logMinor,
  left: 135, right: 134.7, top: 80, bottom: 107.3, xTitle: titlePopPred, yTitle: titleObs,
  points: toPoints([predObsColumns, predObsColumnsMid], predObsSingles), ref: toLine(identityLine), loess: toLine(loessC), loessWidth: 2.6});
panel('cD', {xType: 'logarithmic', xMin: 0.01, xMax: 1000, xMajor: logTickValues, xLabels: logTickLabels, xMinor: logMinor,
  yType: 'logarithmic', yMin: 0.01, yMax: 1000, yMajor: logTickValues, yLabels: logTickLabels, yMinor: logMinor,
  left: 135, right: 134.7, top: 80, bottom: 107.3, xTitle: titleIndPred, yTitle: titleObs,
  points: toPoints([indPredObsColumns, indPredObsColumnsMid], indPredObsSingles), ref: toLine(identityLine), loess: toLine(loessD), loessWidth: 2.6});
</script>
</body></html>
